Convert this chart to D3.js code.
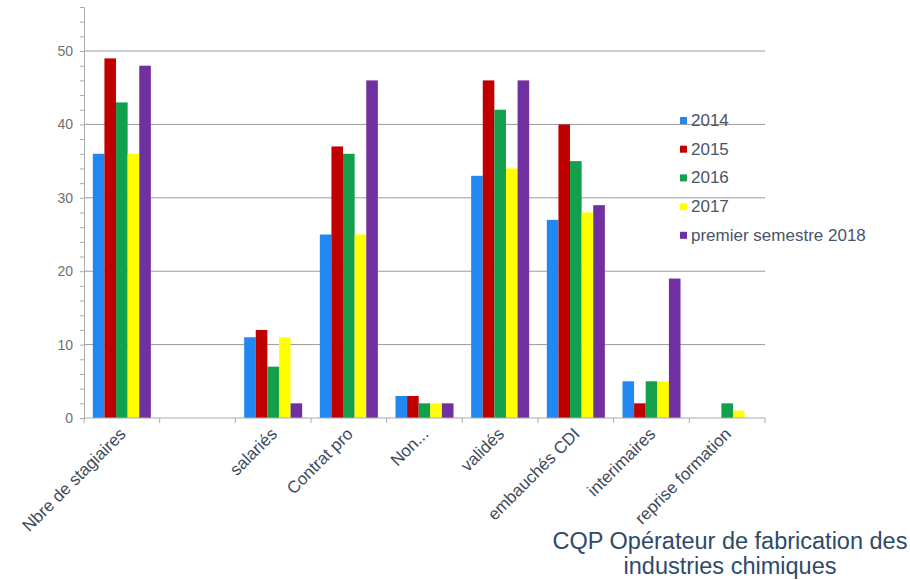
<!DOCTYPE html>
<html>
<head>
<meta charset="utf-8">
<script src="https://cdn.jsdelivr.net/npm/d3@7"></script>
<style>
  body { margin: 0; background: #fff; }
  text { font-family: "Liberation Sans", Arial, sans-serif; }
</style>
</head>
<body>
<div id="vis"></div>
<script>
const categories = ["Nbre de stagiaires", "", "salariés", "Contrat pro", "Non...", "validés", "embauchés CDI", "interimaires", "reprise formation"];
const series = ["2014", "2015", "2016", "2017", "premier semestre 2018"];
const colors = ["#2088f0", "#c00000", "#13a04c", "#ffff00", "#7030a0"];
const v2014 = [36, null, 11, 25, 3, 33, 27, 5, 0];
const v2015 = [49, null, 12, 37, 3, 46, 40, 2, 0];
const v2016 = [43, null, 7, 36, 2, 42, 35, 5, 2];
const v2017 = [36, null, 11, 25, 2, 34, 28, 5, 1];
const v2018 = [48, null, 2, 46, 2, 46, 29, 19, 0];
const yTicks = [0, 10, 20, 30, 40, 50];
const titleLines = ["CQP Opérateur de fabrication des", "industries chimiques"];

const allSeries = [v2014, v2015, v2016, v2017, v2018];

const width = 910, height = 580;
const svg = d3.select("#vis").append("svg")
    .attr("width", width)
    .attr("height", height);

const x = d3.scaleBand().domain(d3.range(categories.length)).range([84, 765]);
const x1 = d3.scaleBand().domain(d3.range(series.length)).range([0, x.bandwidth()]).paddingOuter(0.76);
const y = d3.scaleLinear().domain([0, 56]).range([418, 7]);

// gridlines
svg.append("g").selectAll("line")
    .data(yTicks.filter(d => d > 0))
    .join("line")
    .attr("x1", 84).attr("x2", 765)
    .attr("y1", d => y(d)).attr("y2", d => y(d))
    .attr("stroke", "#9a9a9a").attr("stroke-width", 1);

// y axis
const yAxis = svg.append("g").attr("transform", "translate(84,0)")
    .call(d3.axisLeft(y).tickValues(d3.range(0, 57, 2)).tickSize(4).tickFormat(d => yTicks.includes(d) ? d : ""));
yAxis.select(".domain").attr("stroke", "#aaa");
yAxis.selectAll(".tick line").attr("stroke", "#aaa");
yAxis.selectAll(".tick text").attr("fill", "#707070").attr("font-size", 14).attr("x", -11);

// bars
const groups = svg.append("g").selectAll("g")
    .data(series)
    .join("g")
    .attr("fill", (d, i) => colors[i]);
groups.selectAll("rect")
    .data((d, si) => allSeries[si].map((v, ci) => ({v, ci, si})).filter(d => d.v))
    .join("rect")
    .attr("x", d => x(d.ci) + x1(d.si))
    .attr("width", x1.bandwidth())
    .attr("y", d => y(d.v))
    .attr("height", d => y(0) - y(d.v));

// x axis
svg.append("line").attr("x1", 84).attr("x2", 765).attr("y1", y(0)).attr("y2", y(0)).attr("stroke", "#aaa");
svg.append("g").selectAll("line")
    .data(d3.range(categories.length + 1))
    .join("line")
    .attr("x1", i => 84 + i * x.step()).attr("x2", i => 84 + i * x.step())
    .attr("y1", y(0)).attr("y2", y(0) + 5)
    .attr("stroke", "#aaa");

svg.append("g").selectAll("text")
    .data(categories)
    .join("text")
    .attr("transform", (d, i) => `translate(${x(i) + x.bandwidth() / 2 + 5},${y(0) + 17}) rotate(-45)`)
    .attr("text-anchor", "end")
    .attr("font-size", 17)
    .attr("fill", "#3e4a5c")
    .text(d => d);

// legend
const legend = svg.append("g").attr("transform", "translate(680,120)");
const li = legend.selectAll("g").data(series).join("g")
    .attr("transform", (d, i) => `translate(0,${i * 28.7})`);
li.append("rect").attr("x", 0).attr("y", -3).attr("width", 7).attr("height", 7)
    .attr("fill", (d, i) => colors[i]);
li.append("text").attr("x", 11).attr("y", 6).attr("font-size", 17)
    .attr("fill", "#4a5468").text(d => d);

// title
svg.append("g").selectAll("text")
    .data(titleLines)
    .join("text")
    .attr("x", 730)
    .attr("y", (d, i) => 549 + i * 25)
    .attr("text-anchor", "middle")
    .attr("font-size", 23.5)
    .attr("fill", "#2e4a6a")
    .text(d => d);
</script>
</body>
</html>
